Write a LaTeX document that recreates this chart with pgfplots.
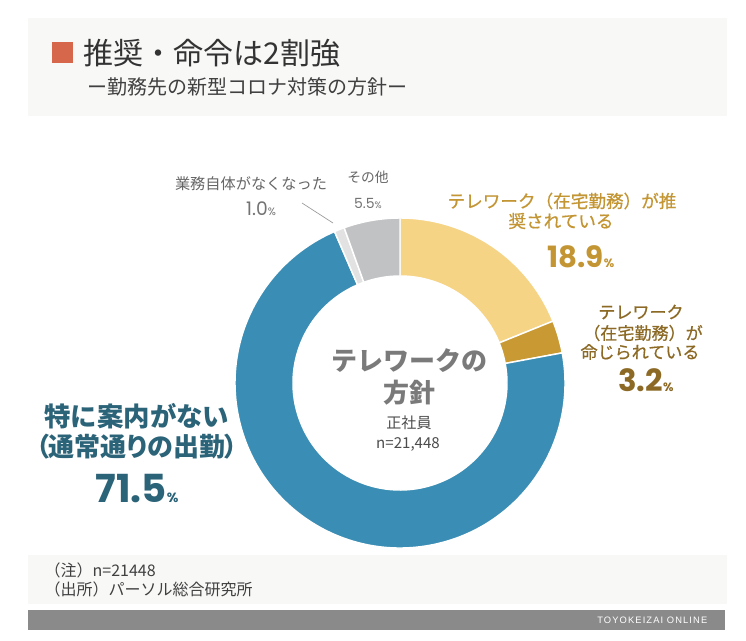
\documentclass[border=0pt]{standalone}
\usepackage{pgfplots}
\pgfplotsset{compat=1.18}
\usepackage{fontspec}
\setmainfont{Noto Sans CJK JP}
\newfontfamily\numfont{Poppins}
\newfontfamily\latfont{Liberation Sans}
\definecolor{cYellow}{HTML}{F6D486}
\definecolor{cGold}{HTML}{C99A33}
\definecolor{cBlue}{HTML}{3A8DB4}
\definecolor{cLight}{HTML}{E2E2E2}
\definecolor{cGrey}{HTML}{C1C2C3}
\definecolor{cSq}{HTML}{D6674A}
\definecolor{cBand}{HTML}{F8F8F7}
\definecolor{cBar}{HTML}{8A8A8A}
\definecolor{cTitle}{HTML}{333333}
\definecolor{cLab1}{HTML}{C39533}
\definecolor{cLab2}{HTML}{8C6A25}
\definecolor{cTeal}{HTML}{2B6378}
\definecolor{cCen}{HTML}{7A7A7A}
\newcommand\fs[1]{\fontsize{#1}{1.2\dimexpr#1\relax}\selectfont}
\begin{document}
\begin{tikzpicture}
\begin{axis}[width=559.5pt, height=480pt, scale only axis,
  xmin=0, xmax=746, ymin=0, ymax=640, y dir=reverse,
  hide axis, clip=false, every node/.append style={inner sep=0pt}]
% backgrounds
\fill[white] (axis cs:0,0) rectangle (axis cs:746,640);
\fill[cBand] (axis cs:28,18) rectangle (axis cs:727,116);
\fill[cBand] (axis cs:28,555) rectangle (axis cs:727,604);
\fill[cBar] (axis cs:28,610) rectangle (axis cs:725,630);
\node[anchor=east, text=white] at (axis cs:712,620) {\latfont\addfontfeature{LetterSpace=12}\fs{7pt}TOYOKEIZAI ONLINE};
% title
\fill[cSq] (axis cs:52,42) rectangle (axis cs:73,63);
\node[anchor=west, text=cTitle] at (axis cs:79,53) {\fs{22.5pt}推奨・命令は2割強};
\node[anchor=west, text=black!75] at (axis cs:83,87) {\fs{15pt}ー勤務先の新型コロナ対策の方針ー};
% donut centre
\path (axis cs:400,383) coordinate (C);
% leader line
\draw[black!40, line width=0.5pt] (axis cs:302,203) -- (axis cs:333,223);
% small labels
\node[text=black!60] at (axis cs:251,184) {\fs{11.4pt}業務自体がなくなった};
\node[anchor=base, text=black!55] at (axis cs:261,215) {\numfont\fs{14pt}1.0{\fs{8pt}\%}};
\node[text=black!60] at (axis cs:368,177) {\fs{10.3pt}その他};
\node[anchor=base, text=black!55] at (axis cs:368,208) {\numfont\fs{10.5pt}5.5{\fs{7pt}\%}};
% gold label 1
\node[text=cLab1] at (axis cs:562,201) {\addfontfeature{FakeBold=0.6}\fs{13.2pt}テレワーク（在宅勤務）が推};
\node[text=cLab1] at (axis cs:561,221) {\addfontfeature{FakeBold=0.6}\fs{13.2pt}奨されている};
\node[anchor=base, text=cLab1] at (axis cs:581,267) {\numfont\bfseries\fs{22pt}18.9{\fs{9pt}\%}};
% gold label 2
\node[text=cLab2] at (axis cs:641,312) {\addfontfeature{FakeBold=0.6}\fs{12.8pt}テレワーク};
\node[text=cLab2] at (axis cs:643,333) {\addfontfeature{FakeBold=0.6}\fs{12.8pt}（在宅勤務）が};
\node[text=cLab2] at (axis cs:640,352) {\addfontfeature{FakeBold=0.6}\fs{12.8pt}命じられている};
\node[anchor=base, text=cLab2] at (axis cs:646,391) {\numfont\bfseries\fs{23pt}3.2{\fs{9pt}\%}};
% blue label
\node[text=cTeal] at (axis cs:137,416) {\bfseries\fs{19.8pt}特に案内がない};
\node[text=cTeal] at (axis cs:137,447) {\bfseries\addfontfeature{RawFeature=+palt}\fs{19.5pt}（通常通りの出勤）};
\node[anchor=base, text=cTeal] at (axis cs:137,502) {\numfont\bfseries\fs{29pt}71.5{\fs{10pt}\%}};
% centre
\node[text=cCen] at (axis cs:409,361) {\bfseries\fs{19.5pt}テレワークの};
\node[text=cCen] at (axis cs:409,393) {\bfseries\fs{19.5pt}方針};
\node[text=black!70] at (axis cs:409,423) {\fs{11.3pt}正社員};
\node[anchor=base, text=black!70] at (axis cs:408,448) {\fs{11.3pt}n=21,448};
% footer
\node[anchor=west, text=black!75] at (axis cs:40,570) {\fs{12pt}（注）n=21448};
\node[anchor=west, text=black!75] at (axis cs:40,589) {\fs{12pt}（出所）パーソル総合研究所};
\end{axis}
% donut wedges around the axis point C (values in percent)
\begin{scope}[shift={(C)}]
  \gdef\sa{90}
  \foreach \v/\c in {18.9/cYellow,3.2/cGold,71.5/cBlue,1.0/cLight,5.5/cGrey}{
    \pgfmathsetmacro\ea{\sa-\v/100.1*360}
    \fill[\c, draw=white, line width=1.1pt] (\sa:123.75pt) arc[start angle=\sa, end angle=\ea, radius=123.75pt] -- (\ea:80.25pt) arc[start angle=\ea, end angle=\sa, radius=80.25pt] -- cycle;
    \xdef\sa{\ea}
  }
\end{scope}
\end{tikzpicture}
\end{document}
